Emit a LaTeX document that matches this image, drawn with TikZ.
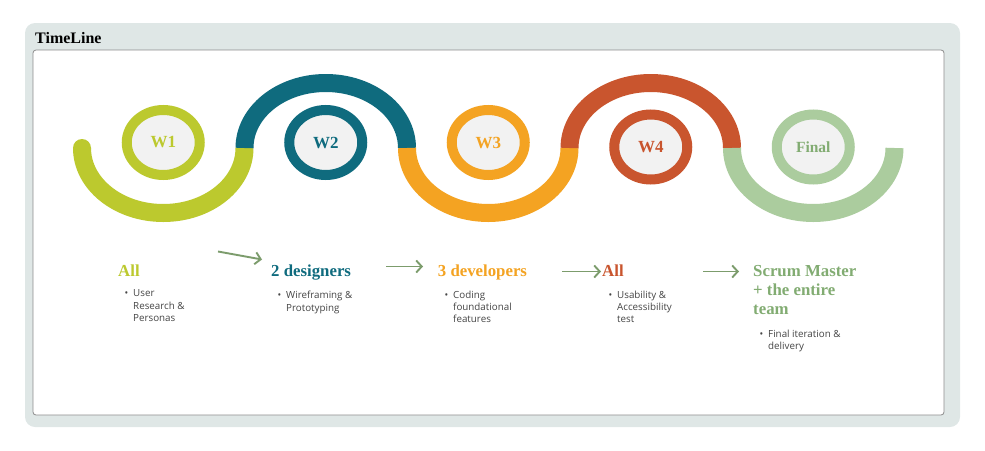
\documentclass[tikz,border=0pt]{standalone}
\usepackage{fontspec}
\setmainfont{Liberation Serif}
\newfontfamily\bodysans{Open Sans}
\usetikzlibrary{shapes.geometric,arrows.meta}

\definecolor{panelgray}{HTML}{DFE7E6}
\definecolor{frameline}{HTML}{8C8C8C}
\definecolor{wolive}{HTML}{BCC92E}
\definecolor{wteal}{HTML}{0F6B7E}
\definecolor{worange}{HTML}{F4A322}
\definecolor{wrust}{HTML}{C9552E}
\definecolor{wsage}{HTML}{ABCC9E}
\definecolor{sagetext}{HTML}{82AC72}
\definecolor{ringfill}{HTML}{F2F2F2}
\definecolor{arrowgreen}{HTML}{7C9C6C}
\definecolor{bodygray}{HTML}{454545}

% bullet list set as a top-aligned paragraph box
\newcommand{\bulletlist}[2]{\parbox[t]{#1pt}{\raggedright\bodysans\fontsize{9.8}{12.3}\selectfont
  \leavevmode\llap{\textbullet\hspace{5pt}}#2}}

\tikzset{
  wave/.style={line width=18pt, line cap=butt},
  ring/.style={ellipse, draw=#1, line width=10pt, fill=ringfill,
    minimum width=73pt, minimum height=65pt, inner sep=0pt,
    text=#1, font=\bfseries\fontsize{17}{17}\selectfont},
  headline/.style={anchor=base west, inner sep=0pt,
    font=\bfseries\fontsize{16.8}{19}\selectfont},
  bodylist/.style={anchor=base west, inner sep=0pt, text=bodygray},
  flow/.style={draw=arrowgreen, line width=1.9pt,
    -{Straight Barb[length=5.5pt,width=12pt,line width=1.9pt]}},
}

\begin{document}
\begin{tikzpicture}[x=1pt,y=-1pt]
\useasboundingbox (0,0) rectangle (985,450);

% panels
\fill[panelgray, rounded corners=10pt] (25,23) rectangle (960,427);
\node[anchor=base west, inner sep=0pt, font=\bfseries\fontsize{16}{16}\selectfont] (title) at (35,43.3) {TimeLine};
\draw[frameline, line width=0.8pt, fill=white, rounded corners=3pt] (33,50) rectangle (944,415);

% wave
\fill[wolive] (82,148) circle[radius=9];
\draw[wave, wolive]  (82,148)    arc[start angle=180, end angle=0,   x radius=81.25, y radius=65];
\draw[wave, wteal]   (244.5,148) arc[start angle=180, end angle=360, x radius=81.25, y radius=65];
\draw[wave, worange] (407,148)   arc[start angle=180, end angle=0,   x radius=81.25, y radius=65];
\draw[wave, wrust]   (569.5,148) arc[start angle=180, end angle=360, x radius=81.25, y radius=65];
\draw[wave, wsage]   (732,148)   arc[start angle=180, end angle=0,   x radius=81.25, y radius=65];

% week rings
\node[ring=wolive]  (w1) at (163.25,142.5) {W1};
\node[ring=wteal]   (w2) at (325.75,142.5) {W2};
\node[ring=worange] (w3) at (488.25,142.5) {W3};
\node[ring=wrust]   (w4) at (650.75,147)   {W4};
\node[ring=wsage, text=sagetext, font=\bfseries\fontsize{15.5}{15.5}\selectfont] (w5) at (813.25,147) {Final};

% headings
\node[headline, text=wolive]   (h1) at (118,276.7) {All};
\node[headline, text=wteal]    (h2) at (271,276.7) {2 designers};
\node[headline, text=worange]  (h3) at (437.7,276.5) {3 developers};
\node[headline, text=wrust]    (h4) at (602,276.5) {All};
\node[headline, text=sagetext] (h5) at (753,276.5) {\parbox[t]{130pt}{\raggedright Scrum Master\\+ the entire\\team}};

% task lists
\node[bodylist] (t1) at (133,296.8) {\bulletlist{70}{User\\Research \&\\Personas}};
\node[bodylist] (t2) at (286,298.8) {\bulletlist{90}{Wireframing \&\\Prototyping}};
\node[bodylist] (t3) at (453,298.3) {\bulletlist{90}{Coding\\foundational\\features}};
\node[bodylist] (t4) at (617,298.3) {\bulletlist{90}{Usability \&\\Accessibility\\test}};
\node[bodylist] (t5) at (768,337) {\bulletlist{110}{Final iteration \&\\delivery}};

% flow arrows
\coordinate (a1s) at (218,251.5); \coordinate (a1e) at (262,259.5);
\coordinate (a2s) at (386,266.5); \coordinate (a2e) at (423,266.5);
\coordinate (a3s) at (562,271.5); \coordinate (a3e) at (601,271.5);
\coordinate (a4s) at (703,271.5); \coordinate (a4e) at (739,271.5);
\draw[flow] (a1s) -- (a1e);
\draw[flow] (a2s) -- (a2e);
\draw[flow] (a3s) -- (a3e);
\draw[flow] (a4s) -- (a4e);
\end{tikzpicture}
\end{document}
